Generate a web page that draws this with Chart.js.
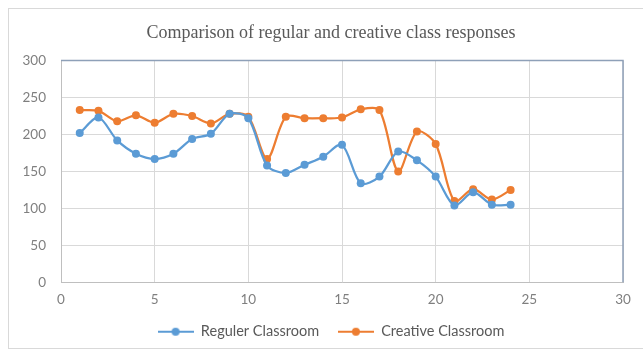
<!DOCTYPE html>
<html>
<head>
<meta charset="utf-8">
<script src="https://cdn.jsdelivr.net/npm/chart.js@4.4.1/dist/chart.umd.min.js"></script>
<style>
  html, body { margin: 0; padding: 0; background: #ffffff; }
  body { width: 643px; height: 352px; position: relative; overflow: hidden; }
  #frame {
    position: absolute; left: 8px; top: 8px; width: 640px; height: 341px;
    border: 1px solid #d9d9d9; box-sizing: border-box; background: #fff;
  }
  #responsesChart { position: absolute; left: 0; top: 0; }
</style>
</head>
<body>
<div id="frame"><canvas id="responsesChart" width="639" height="340"></canvas></div>
<script>
// Chart data
const sessionNumbers = [1, 2, 3, 4, 5, 6, 7, 8, 9, 10, 11, 12, 13, 14, 15, 16, 17, 18, 19, 20, 21, 22, 23, 24];
const regularClassroom = [202, 223, 192, 174, 167, 174, 194, 201, 228, 222, 158, 148, 159, 170, 186, 134, 143, 177, 165, 143, 104, 122, 105, 105];
const creativeClassroom = [233, 232, 218, 226, 216, 228, 225, 215, 228, 224, 167, 224, 222, 222, 223, 234, 233, 150, 204, 187, 110, 126, 112, 125];
const xTicks = [0, 5, 10, 15, 20, 25, 30];
const yTicks = [0, 50, 100, 150, 200, 250, 300];

const seriesNames = ['Reguler Classroom', 'Creative Classroom'];
const seriesColors = ['#5b9bd5', '#ed7d31'];

const tickFont = { family: 'Lato, "Liberation Sans", sans-serif', size: 13.5 };
const legendFont = { family: 'Lato, "Liberation Sans", sans-serif', size: 14.5 };
const tickColor = '#7f7f7f';

/**
 * Legend swatch: short line with a round marker, like the spreadsheet legend
 */
function legendSwatch(color) {
  const c = document.createElement('canvas');
  c.width = 36;
  c.height = 10;
  const g = c.getContext('2d');
  g.strokeStyle = color;
  g.lineWidth = 2;
  g.beginPath();
  g.moveTo(0, 5);
  g.lineTo(36, 5);
  g.stroke();
  g.fillStyle = color;
  g.beginPath();
  g.arc(18, 5, 4, 0, Math.PI * 2);
  g.fill();
  return c;
}

function toPoints(values) {
  return values.map((v, i) => ({ x: sessionNumbers[i], y: v }));
}

const datasets = [regularClassroom, creativeClassroom].map((values, i) => ({
  label: seriesNames[i],
  data: toPoints(values),
  borderColor: seriesColors[i],
  backgroundColor: seriesColors[i],
  borderWidth: 2.25,
  pointRadius: 4,
  pointBorderWidth: 0,
  pointStyle: 'circle',
  tension: 0.3
}));

const ctx = document.getElementById('responsesChart').getContext('2d');
new Chart(ctx, {
  type: 'line',
  data: { datasets },
  options: {
    responsive: false,
    animation: false,
    // left padding moves the title/legend centre right; narrow y axis keeps the plot edge
    layout: { padding: { left: 30, right: 25, top: 0, bottom: 0 } },
    plugins: {
      title: {
        display: true,
        text: 'Comparison of regular and creative class responses',
        color: '#595959',
        font: { family: '"Liberation Serif", "DejaVu Serif", serif', size: 18, weight: 'normal' },
        padding: { top: 13, bottom: 17 }
      },
      legend: {
        position: 'bottom',
        labels: {
          color: '#595959',
          font: legendFont,
          usePointStyle: true,
          pointStyleWidth: 36,
          boxHeight: 10,
          padding: 8,
          // extra gap only between the two entries
          generateLabels: (chart) => chart.data.datasets.map((ds, i, all) => ({
            text: i < all.length - 1 ? ds.label + '\u2003' : ds.label,
            fontColor: '#595959',
            pointStyle: legendSwatch(ds.borderColor),
            datasetIndex: i,
            hidden: false,
            lineWidth: 0
          }))
        }
      },
      tooltip: { enabled: false }
    },
    scales: {
      x: {
        type: 'linear',
        min: xTicks[0],
        max: xTicks[xTicks.length - 1],
        afterBuildTicks: (axis) => { axis.ticks = xTicks.map(v => ({ value: v })); },
        ticks: { color: tickColor, font: tickFont, padding: 9 },
        grid: { color: '#d9d9d9', drawTicks: false },
        border: { color: '#bfbfbf', width: 1 }
      },
      y: {
        min: yTicks[0],
        max: yTicks[yTicks.length - 1],
        afterBuildTicks: (axis) => { axis.ticks = yTicks.map(v => ({ value: v })); },
        afterFit: (axis) => {
          axis.width = 22;
          // let the labels spill into the left padding instead of being clipped
          axis._computeLabelArea = () => undefined;
        },
        ticks: { color: tickColor, font: tickFont, padding: 15 },
        grid: { color: '#d9d9d9', drawTicks: false },
        border: { color: '#bfbfbf', width: 1 }
      }
    }
  },
  plugins: [{
    // top and right edges of the plot area, like the reference frame
    id: 'plotBorder',
    beforeDatasetsDraw(chart) {
      const { ctx, chartArea } = chart;
      ctx.save();
      ctx.strokeStyle = '#8ea0b8';
      ctx.lineWidth = 1.5;
      ctx.beginPath();
      ctx.moveTo(chartArea.left, chartArea.top);
      ctx.lineTo(chartArea.right, chartArea.top);
      ctx.lineTo(chartArea.right, chartArea.bottom);
      ctx.stroke();
      ctx.restore();
    }
  }]
});
</script>
</body>
</html>
